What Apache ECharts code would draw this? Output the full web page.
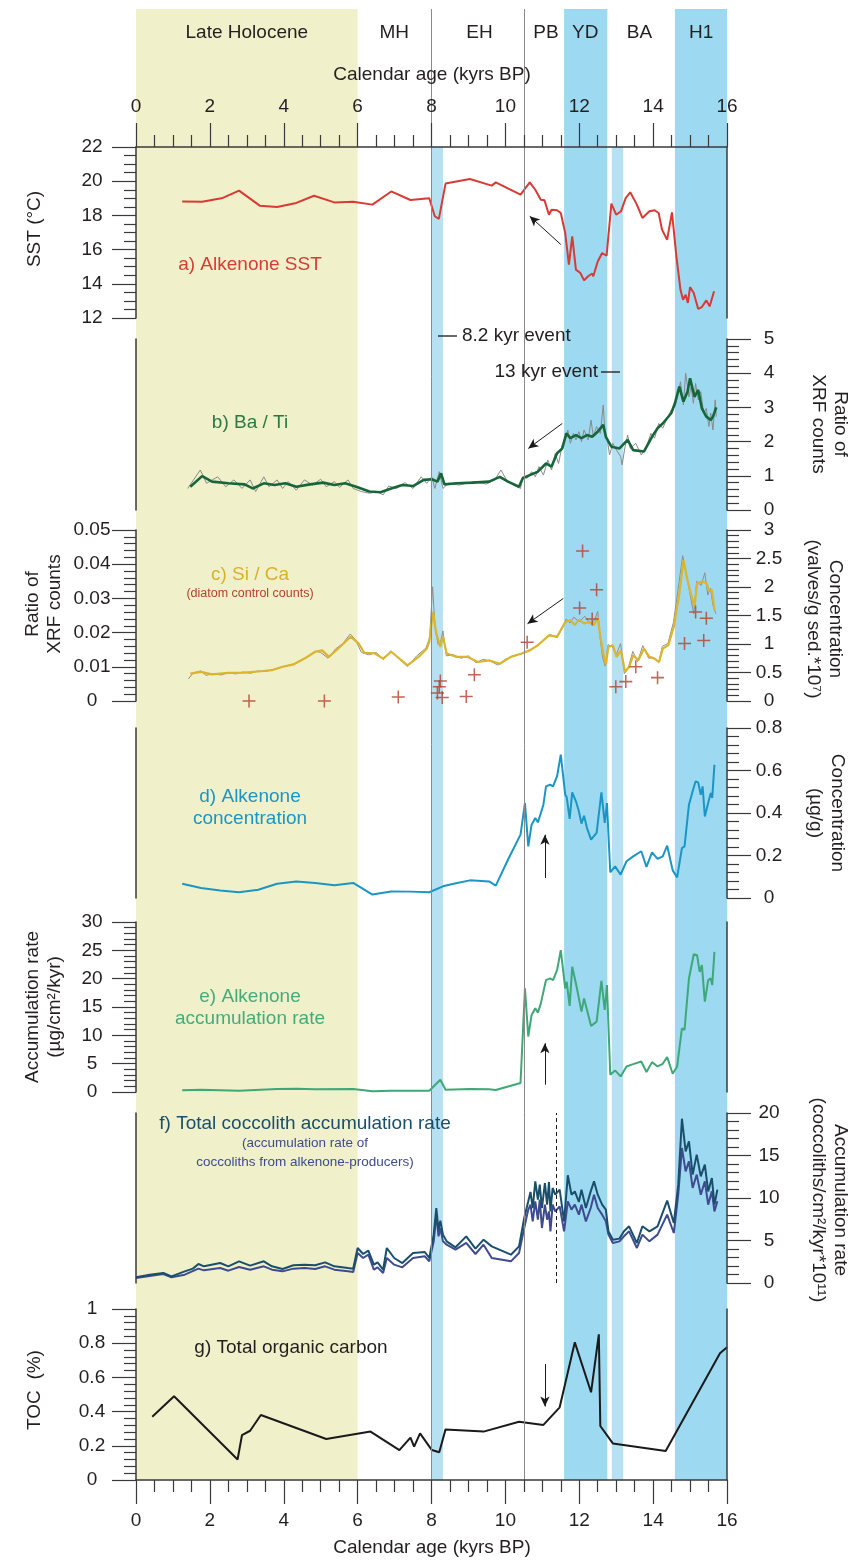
<!DOCTYPE html>
<html><head><meta charset="utf-8">
<script src="https://cdn.jsdelivr.net/npm/echarts@6.0.0/dist/echarts.min.js"></script>
<style>html,body{margin:0;padding:0;background:#fff}#c{width:852px;height:1560px}</style>
</head><body><div id="c"></div>
<script>
// ---------- DATA ----------
const bandNames = ['Late Holocene','MH','EH','PB','YD','BA','H1'];
const bandNamePos = [3.0, 6.99, 9.3, 11.1, 12.16, 13.63, 15.3];
const holoceneBand = [0, 6];
const strongBands = [[11.59, 12.76], [14.59, 16.0]];
const paleBands = [[8.0, 8.31], [12.88, 13.19]];
const eventLines = [8.0, 10.5];
const xTicks = {min: 0, max: 16, interval: 2};

const sst = [[1.25,18.82],[1.79,18.8],[2.35,19.02],[2.79,19.45],[3.35,18.57],[3.82,18.49],[4.34,18.73],[4.82,19.15],[5.37,18.76],[5.88,18.8],[6.4,18.63],[6.91,19.4],[7.43,18.9],[7.94,19.0],[8.09,17.95],[8.2,17.8],[8.38,19.86],[9.04,20.13],[9.63,19.74],[9.74,19.93],[10.41,19.21],[10.66,19.93],[10.81,19.5],[10.96,18.92],[11.06,18.88],[11.18,18.04],[11.25,18.33],[11.4,18.3],[11.5,18.14],[11.62,16.97],[11.72,15.12],[11.81,16.78],[11.91,14.83],[12.03,14.63],[12.13,14.2],[12.24,14.44],[12.35,14.6],[12.38,14.44],[12.5,15.3],[12.62,15.8],[12.74,15.64],[12.87,18.69],[13.0,18.04],[13.13,18.24],[13.26,19.02],[13.38,19.35],[13.56,18.63],[13.71,17.85],[13.9,18.24],[14.04,18.3],[14.15,18.14],[14.24,17.17],[14.38,16.58],[14.51,18.18],[14.63,15.6],[14.74,13.66],[14.81,13.07],[14.88,13.36],[14.94,12.88],[15.0,13.81],[15.1,13.46],[15.22,12.53],[15.32,12.64],[15.44,13.03],[15.53,12.68],[15.65,13.56]];

const baTiSmooth = [[1.47,0.68],[1.79,0.99],[2.06,0.83],[2.5,0.78],[2.94,0.75],[3.16,0.63],[3.46,0.78],[3.75,0.73],[4.04,0.78],[4.34,0.68],[4.71,0.75],[5.07,0.8],[5.37,0.73],[5.66,0.78],[5.96,0.68],[6.32,0.54],[6.62,0.52],[6.91,0.63],[7.21,0.73],[7.5,0.7],[7.79,0.88],[8.01,0.9],[8.16,0.83],[8.26,1.07],[8.35,0.75],[8.68,0.78],[9.12,0.8],[9.56,0.83],[9.85,0.97],[10.07,0.83],[10.37,0.68],[10.47,0.93],[10.66,1.02],[10.88,1.12],[11.1,1.36],[11.25,1.27],[11.4,1.66],[11.54,1.8],[11.65,2.24],[11.76,2.1],[11.91,2.19],[12.06,2.1],[12.21,2.19],[12.35,2.14],[12.5,2.29],[12.65,2.49],[12.72,2.14],[12.87,1.85],[13.09,1.8],[13.31,2.05],[13.46,1.75],[13.75,1.71],[13.97,2.14],[14.12,2.39],[14.26,2.53],[14.49,2.83],[14.59,3.12],[14.71,3.61],[14.82,3.17],[14.93,3.46],[15.0,3.85],[15.12,3.31],[15.22,3.51],[15.32,2.97],[15.44,2.73],[15.56,2.63],[15.62,2.73],[15.71,3.0]];
const baTiRaw = [[1.40,0.63],[1.74,1.17],[1.91,0.78],[2.21,0.97],[2.43,0.68],[2.65,0.88],[2.87,0.63],[3.09,0.88],[3.24,0.54],[3.46,0.97],[3.60,0.68],[3.82,0.88],[3.97,0.63],[4.12,0.83],[4.34,0.58],[4.56,0.88],[4.78,0.73],[5.00,0.90],[5.15,0.68],[5.37,0.83],[5.51,0.66],[5.74,0.88],[5.88,0.63],[6.10,0.54],[6.32,0.49],[6.54,0.54],[6.69,0.44],[6.84,0.70],[7.06,0.63],[7.28,0.80],[7.50,0.63],[7.72,0.97],[7.87,0.78],[8.01,0.97],[8.09,0.63],[8.21,1.12],[8.31,0.63],[8.46,0.78],[8.75,0.73],[9.12,0.83],[9.49,0.76],[9.71,0.88],[9.88,1.17],[10.03,0.88],[10.22,0.73],[10.41,0.63],[10.47,0.97],[10.59,0.93],[10.71,1.12],[10.81,0.97],[10.91,1.27],[11.03,1.02],[11.15,1.46],[11.25,1.17],[11.35,1.66],[11.44,1.36],[11.54,1.90],[11.62,2.05],[11.69,2.34],[11.76,1.95],[11.84,2.24],[11.91,2.05],[11.99,2.29],[12.06,2.00],[12.13,2.34],[12.24,2.05],[12.32,2.63],[12.38,2.14],[12.47,2.44],[12.57,2.24],[12.65,3.07],[12.69,2.34],[12.76,2.05],[12.82,1.61],[12.91,1.95],[13.01,1.75],[13.12,1.56],[13.16,1.32],[13.24,1.85],[13.31,2.19],[13.38,1.80],[13.53,1.95],[13.68,1.61],[13.82,1.85],[13.94,2.24],[14.04,2.10],[14.15,2.53],[14.26,2.39],[14.38,2.68],[14.49,2.92],[14.59,3.02],[14.68,3.41],[14.74,3.75],[14.82,3.07],[14.88,4.00],[14.97,3.31],[15.03,3.61],[15.09,3.12],[15.15,3.70],[15.22,3.22],[15.29,3.46],[15.37,2.83],[15.44,2.97],[15.51,2.44],[15.56,2.83],[15.62,2.34],[15.68,3.22],[15.71,2.73]];

const siCaSmooth = [[1.47,0.0080],[1.76,0.0085],[2.06,0.0078],[2.5,0.0082],[2.94,0.0083],[3.38,0.0087],[3.68,0.0090],[3.97,0.0100],[4.26,0.0107],[4.56,0.0124],[4.85,0.0144],[5.04,0.0148],[5.22,0.0129],[5.44,0.0150],[5.81,0.0188],[6.03,0.0168],[6.18,0.0141],[6.47,0.0139],[6.69,0.0124],[6.91,0.0144],[7.35,0.0104],[7.65,0.0129],[7.87,0.0153],[7.94,0.0173],[8.04,0.0261],[8.13,0.0197],[8.24,0.0158],[8.31,0.0188],[8.41,0.0139],[8.68,0.0129],[8.97,0.0129],[9.26,0.0114],[9.56,0.0119],[9.85,0.0109],[10.15,0.0129],[10.44,0.0139],[10.66,0.0148],[10.88,0.0163],[11.18,0.0192],[11.4,0.0188],[11.62,0.0231],[11.76,0.0236],[11.88,0.0222],[11.99,0.0238],[12.13,0.0227],[12.28,0.0231],[12.4,0.0222],[12.5,0.0246],[12.57,0.0188],[12.65,0.0139],[12.72,0.0107],[12.79,0.0158],[12.91,0.0163],[13.01,0.0129],[13.13,0.0148],[13.24,0.0085],[13.35,0.0100],[13.46,0.0134],[13.6,0.0119],[13.75,0.0153],[13.9,0.0129],[14.04,0.0124],[14.16,0.0114],[14.26,0.0153],[14.41,0.0163],[14.56,0.0217],[14.71,0.0314],[14.82,0.0412],[14.93,0.0354],[15.03,0.0310],[15.12,0.0275],[15.19,0.0344],[15.32,0.0349],[15.44,0.0346],[15.51,0.0324],[15.59,0.0324],[15.66,0.0266]];
const siCaRaw = [[1.42,0.0065],[1.55,0.0082],[1.75,0.0088],[1.9,0.0075],[2.1,0.0080],[2.3,0.0076],[2.5,0.0083],[2.7,0.0079],[2.9,0.0085],[3.1,0.0081],[3.3,0.0088],[3.5,0.0086],[3.7,0.0092],[3.9,0.0098],[4.1,0.0103],[4.3,0.0109],[4.5,0.0120],[4.7,0.0132],[4.85,0.0146],[5.0,0.0142],[5.2,0.0125],[5.4,0.0152],[5.6,0.0168],[5.8,0.0196],[5.95,0.0178],[6.1,0.0142],[6.3,0.0135],[6.5,0.0142],[6.7,0.0121],[6.9,0.0147],[7.1,0.0125],[7.35,0.0101],[7.6,0.0132],[7.85,0.0155],[7.95,0.0185],[8.03,0.0334],[8.1,0.0210],[8.18,0.0165],[8.25,0.0175],[8.31,0.0205],[8.4,0.0132],[8.6,0.0135],[8.8,0.0125],[9.0,0.0132],[9.2,0.0112],[9.4,0.0122],[9.6,0.0116],[9.8,0.0105],[10.0,0.0122],[10.2,0.0132],[10.4,0.0136],[10.6,0.0145],[10.8,0.0158],[11.0,0.0175],[11.2,0.0195],[11.4,0.0185],[11.55,0.0215],[11.65,0.0240],[11.75,0.0228],[11.85,0.0245],[12.0,0.0232],[12.15,0.0248],[12.3,0.0225],[12.42,0.0238],[12.5,0.0262],[12.56,0.0190],[12.63,0.0128],[12.7,0.0102],[12.78,0.0165],[12.9,0.0158],[13.0,0.0135],[13.12,0.0168],[13.22,0.0080],[13.33,0.0098],[13.45,0.0145],[13.58,0.0115],[13.72,0.0162],[13.88,0.0125],[14.0,0.0128],[14.15,0.0112],[14.25,0.0160],[14.4,0.0168],[14.55,0.0230],[14.68,0.0330],[14.8,0.0425],[14.92,0.0360],[15.02,0.0300],[15.1,0.0255],[15.18,0.0350],[15.3,0.0338],[15.4,0.0375],[15.48,0.0310],[15.55,0.0330],[15.62,0.0280],[15.7,0.0255]];
const diatoms = [[3.06,0],[5.1,0],[7.1,0.07],[8.16,0.14],[8.21,0.25],[8.24,0.35],[8.29,0.06],[8.94,0.08],[9.16,0.46],[10.59,1.03],[12.09,2.63],[12.47,1.95],[12.01,1.63],[12.35,1.44],[12.99,0.25],[13.26,0.34],[13.53,0.6],[14.12,0.41],[14.85,1.01],[15.15,1.56],[15.37,1.06],[15.44,1.45]];

const alkConc = [[1.25,0.067],[1.76,0.047],[2.28,0.035],[2.79,0.027],[3.31,0.039],[3.82,0.067],[4.34,0.078],[4.85,0.071],[5.37,0.06],[5.88,0.071],[6.4,0.016],[6.91,0.031],[7.43,0.03],[7.94,0.027],[8.31,0.055],[8.6,0.067],[9.04,0.083],[9.56,0.078],[9.74,0.058],[10.07,0.18],[10.41,0.298],[10.53,0.447],[10.62,0.243],[10.71,0.345],[10.81,0.376],[10.88,0.356],[10.96,0.4],[11.03,0.439],[11.1,0.525],[11.21,0.533],[11.29,0.525],[11.4,0.573],[11.5,0.675],[11.62,0.486],[11.66,0.475],[11.74,0.372],[11.81,0.497],[11.91,0.455],[11.99,0.408],[12.06,0.35],[12.13,0.387],[12.21,0.329],[12.32,0.275],[12.47,0.306],[12.6,0.497],[12.69,0.353],[12.75,0.447],[12.84,0.121],[12.97,0.149],[13.12,0.11],[13.28,0.173],[13.46,0.196],[13.68,0.22],[13.82,0.146],[13.97,0.215],[14.12,0.184],[14.26,0.196],[14.38,0.246],[14.53,0.13],[14.65,0.097],[14.78,0.235],[14.85,0.243],[14.97,0.439],[15.07,0.502],[15.15,0.549],[15.22,0.544],[15.29,0.486],[15.34,0.525],[15.4,0.384],[15.49,0.447],[15.56,0.494],[15.6,0.471],[15.66,0.627]];

const alkAR = [[1.25,0.29],[1.76,0.41],[2.79,0.23],[3.82,0.53],[4.34,0.59],[4.85,0.47],[5.88,0.53],[6.4,0.12],[6.91,0.23],[7.94,0.23],[8.24,2.17],[8.38,0.41],[9.04,0.53],[9.56,0.47],[9.74,0.35],[10.41,1.58],[10.53,18.28],[10.62,9.79],[10.71,13.6],[10.81,14.77],[10.88,14.0],[10.96,15.64],[11.1,19.75],[11.21,20.04],[11.29,19.75],[11.4,21.5],[11.5,25.02],[11.62,18.28],[11.66,19.45],[11.74,15.18],[11.81,22.09],[11.91,19.16],[11.99,16.52],[12.06,14.18],[12.13,16.52],[12.21,14.47],[12.32,11.66],[12.47,12.42],[12.6,19.63],[12.69,14.47],[12.75,18.87],[12.84,3.05],[12.97,3.81],[13.12,2.75],[13.28,4.51],[13.46,4.92],[13.68,5.39],[13.82,3.52],[13.97,5.27],[14.12,4.51],[14.26,4.98],[14.38,6.15],[14.53,3.22],[14.65,4.51],[14.78,11.25],[14.85,10.96],[14.97,20.04],[15.1,24.32],[15.19,24.14],[15.26,21.21],[15.32,22.38],[15.4,15.94],[15.49,19.75],[15.56,20.04],[15.6,18.87],[15.66,24.73]];

const coccoTotal = [[0,0.67],[0.37,0.98],[0.74,1.18],[0.96,0.78],[1.32,1.37],[1.54,1.69],[1.69,2.24],[1.84,1.96],[2.28,2.35],[2.5,1.96],[2.79,2.55],[3.09,2.04],[3.46,2.55],[3.68,1.96],[3.97,1.65],[4.26,2.08],[4.56,2.16],[4.85,2.08],[5.12,2.43],[5.37,1.96],[5.74,1.76],[5.88,1.69],[6.0,4.12],[6.15,3.41],[6.29,3.8],[6.44,2.16],[6.54,2.43],[6.69,1.57],[6.79,4.12],[6.99,2.94],[7.21,2.35],[7.5,3.53],[7.82,3.65],[7.94,2.94],[8.06,5.69],[8.13,8.82],[8.19,6.27],[8.24,7.33],[8.31,5.69],[8.41,4.9],[8.65,4.2],[8.94,5.49],[9.19,4.04],[9.41,5.1],[9.63,4.31],[10.15,3.33],[10.37,4.31],[10.51,7.65],[10.62,9.61],[10.68,10.71],[10.74,8.82],[10.81,11.96],[10.88,9.8],[10.93,11.57],[10.99,8.82],[11.07,11.76],[11.13,9.22],[11.18,11.88],[11.22,8.43],[11.28,11.18],[11.35,10.39],[11.47,10.98],[11.59,7.25],[11.69,12.67],[11.79,10.39],[11.88,10.78],[11.99,9.53],[12.06,10.98],[12.18,8.82],[12.31,10.78],[12.4,11.96],[12.5,10.39],[12.62,9.22],[12.72,8.63],[12.79,6.08],[12.91,5.1],[13.09,5.22],[13.21,6.08],[13.35,6.67],[13.56,4.71],[13.71,6.67],[13.9,6.08],[14.12,6.67],[14.38,9.69],[14.56,7.06],[14.68,11.57],[14.78,19.33],[14.88,15.49],[14.97,16.67],[15.07,12.75],[15.18,15.1],[15.29,12.55],[15.4,13.92],[15.49,10.78],[15.59,12.35],[15.66,9.22],[15.74,10.98]];
const coccoAlk = [[0,0.59],[0.74,1.06],[0.96,0.67],[1.32,0.98],[1.69,1.69],[1.84,1.49],[2.28,1.76],[2.5,1.45],[2.79,1.88],[3.09,1.57],[3.46,1.96],[3.68,1.57],[3.97,1.37],[4.26,1.69],[4.56,1.76],[4.85,1.65],[5.12,1.96],[5.37,1.57],[5.74,1.37],[5.88,1.29],[6.0,3.53],[6.15,2.94],[6.29,3.33],[6.44,1.57],[6.54,1.84],[6.69,1.18],[6.79,2.94],[6.99,2.16],[7.21,1.84],[7.5,2.94],[7.82,3.14],[7.94,2.55],[8.06,4.9],[8.13,8.04],[8.19,5.49],[8.24,6.47],[8.31,4.9],[8.41,4.51],[8.65,3.92],[8.94,4.71],[9.19,3.41],[9.41,4.51],[9.63,2.94],[10.15,2.55],[10.37,3.53],[10.51,6.47],[10.62,8.63],[10.68,9.22],[10.74,7.25],[10.81,9.61],[10.88,7.45],[10.93,9.8],[10.99,6.47],[11.07,9.22],[11.13,7.45],[11.18,8.43],[11.22,6.08],[11.28,9.22],[11.35,8.43],[11.47,9.02],[11.59,6.08],[11.69,9.61],[11.79,8.63],[11.88,9.22],[11.99,8.04],[12.06,9.22],[12.18,7.25],[12.31,8.82],[12.4,10.39],[12.5,8.82],[12.62,8.04],[12.72,7.25],[12.79,5.69],[12.91,4.71],[13.09,4.9],[13.21,5.49],[13.35,6.08],[13.56,4.12],[13.71,5.69],[13.9,4.9],[14.12,5.69],[14.38,8.04],[14.56,5.88],[14.68,10.39],[14.78,15.88],[14.88,13.14],[14.97,14.31],[15.07,11.18],[15.18,12.75],[15.29,10.39],[15.4,11.96],[15.49,9.22],[15.59,10.78],[15.66,8.43],[15.74,9.61]];
const coccoDashAge = 11.37;

const toc = [[0.44,0.37],[1.03,0.49],[2.75,0.12],[2.87,0.263],[3.09,0.288],[3.38,0.38],[5.15,0.24],[6.35,0.283],[7.13,0.175],[7.43,0.248],[7.53,0.195],[7.69,0.273],[8.01,0.175],[8.21,0.162],[8.38,0.296],[9.41,0.283],[10.37,0.341],[11.03,0.322],[11.47,0.425],[11.88,0.805],[12.32,0.513],[12.53,0.852],[12.57,0.316],[12.91,0.214],[14.34,0.17],[15.81,0.741],[16.0,0.776]];

// arrows: [from, to] in data units of each panel
const arrowA = [[11.5,16.3],[10.66,17.95]];
const arrowB = [[11.54,2.53],[10.62,1.8]];
const arrowC = [[11.57,0.030],[10.6,0.0226]];
const arrowD = [[11.07,0.094],[11.07,0.298]];
const arrowE = [[11.07,1.3],[11.07,8.6]];
const arrowF = [[11.07,-0.9],[11.07,4.3]];
const arrowG = [[11.07,0.678],[11.07,0.43]];

// ---------- STYLE ----------
const FONT = '"Liberation Sans", Arial, Helvetica, sans-serif';
const AXC = '#3a3a3a';
const TXT = '#231f20';
const L = 136, W = 591;
const grids = [
  {left:L, width:W, top:147, height:171},   // a
  {left:L, width:W, top:339, height:171},   // b
  {left:L, width:W, top:530, height:171},   // c
  {left:L, width:W, top:728, height:170},   // d
  {left:L, width:W, top:922, height:170},   // e
  {left:L, width:W, top:1113, height:170},  // f
  {left:L, width:W, top:1309, height:171},  // g
  {left:L, width:W, top:9, height:1471},    // bg full
  {left:L, width:W, top:147, height:1333},  // bg lower
  {left:L, width:W, top:20, height:26}      // band names
];

function xHidden(g){ return {type:'value', gridIndex:g, min:0, max:16, show:false}; }
function xShown(g, pos){
  return {type:'value', gridIndex:g, position:pos, min:xTicks.min, max:xTicks.max, interval:xTicks.interval, z:10,
    axisLine:{show:true, onZero:false, lineStyle:{color:AXC, width:1.5}},
    axisTick:{show:true, length:24, lineStyle:{color:AXC, width:1.2}},
    minorTick:{show:true, splitNumber:4, length:12, lineStyle:{color:AXC, width:1.2}},
    axisLabel:{margin:31, fontSize:19, color:TXT, fontFamily:FONT},
    splitLine:{show:false}, minorSplitLine:{show:false}};
}
function yAx(g, pos, min, max, interval, split, fmt){
  return {type:'value', gridIndex:g, position:pos, min, max, interval, z:10,
    axisLine:{show:true, onZero:false, lineStyle:{color:AXC, width:1.5}},
    axisTick:{show:true, length:24, lineStyle:{color:AXC, width:1.2}},
    minorTick:{show:true, splitNumber:split, length:12, lineStyle:{color:AXC, width:1.2}},
    axisLabel:{margin: pos==='left' ? 44 : 42, align:'center', fontSize:19, color:TXT, fontFamily:FONT, formatter: fmt},
    splitLine:{show:false}, minorSplitLine:{show:false}};
}
function ySpine(g, pos, min, max){
  return {type:'value', gridIndex:g, position:pos, min, max, z:10,
    axisLine:{show:true, onZero:false, lineStyle:{color:AXC, width:1.5}},
    axisTick:{show:false}, axisLabel:{show:false}, splitLine:{show:false}};
}
function yHidden(g){ return {type:'value', gridIndex:g, min:0, max:1, show:false}; }

const xAxes = [xShown(0,'top'), xHidden(1), xHidden(2), xHidden(3), xHidden(4), xHidden(5), xShown(6,'bottom'), xHidden(7), xHidden(8), xHidden(9)];
const yAxes = [
  yAx(0,'left',12,22,2,4),            //0
  ySpine(0,'right',12,22),            //1
  yAx(1,'right',0,5,1,5),             //2
  ySpine(1,'left',0,5),               //3
  yAx(2,'left',0,0.05,0.01,5, v => v===0 ? '0' : String(+v.toFixed(2))), //4
  yAx(2,'right',0,3,0.5,5),           //5
  yAx(3,'right',0,0.8,0.2,5, v => v===0 ? '0' : String(+v.toFixed(1))),  //6
  ySpine(3,'left',0,0.8),             //7
  yAx(4,'left',0,30,5,5),             //8
  ySpine(4,'right',0,30),             //9
  yAx(5,'right',0,20,5,5),            //10
  ySpine(5,'left',0,20),              //11
  yAx(6,'left',0,1,0.2,5, v => v===0 ? '0' : String(+v.toFixed(1))),     //12
  ySpine(6,'right',0,1),              //13
  yHidden(7), yHidden(8), yHidden(9)  //14,15,16
];

function arrowMark(a){
  return {silent:true, symbol:['none','arrow'], symbolSize:[7,10], precision:4,
    lineStyle:{color:'#1a1a1a', width:1, type:'solid'}, label:{show:false},
    emphasis:{disabled:true}, animation:false,
    data:[[{coord:a[0]},{coord:a[1]}]]};
}
function lineSeries(xi, yi, data, color, width, z, extra){
  return Object.assign({type:'line', xAxisIndex:xi, yAxisIndex:yi, data, symbol:'none', z:z||3,
    lineStyle:{color, width}, itemStyle:{color}, emphasis:{disabled:true}}, extra||{});
}

const crossPath = 'path://M5.3,0h1.4v5.3h5.3v1.4h-5.3v5.3h-1.4v-5.3h-5.3v-1.4h5.3z';

const series = [
  // backgrounds
  {type:'scatter', xAxisIndex:7, yAxisIndex:14, data:[[0,-5]], symbolSize:0, z:1, silent:true,
    markArea:{silent:true, data:[
      [{xAxis:holoceneBand[0], itemStyle:{color:'#f0f0ca'}},{xAxis:holoceneBand[1]}],
      ...strongBands.map(b => [{xAxis:b[0], itemStyle:{color:'#9dd9f1'}},{xAxis:b[1]}])
    ]},
    markLine:{silent:true, symbol:['none','none'], label:{show:false}, lineStyle:{color:'#8a8a8a', width:1, type:'solid'},
      data: eventLines.map(v => ({xAxis:v}))}
  },
  {type:'scatter', xAxisIndex:8, yAxisIndex:15, data:[[0,-5]], symbolSize:0, z:1, silent:true,
    markArea:{silent:true, data: paleBands.map(b => [{xAxis:b[0], itemStyle:{color:'#b5e1f3'}},{xAxis:b[1]}])}
  },
  // a
  lineSeries(0,0,sst,'#d83a34',2,3,{markLine:arrowMark(arrowA)}),
  // b
  lineSeries(1,2,baTiRaw,'#8a8a8a',1,3),
  lineSeries(1,2,baTiSmooth,'#17663a',2.6,4,{markLine:arrowMark(arrowB)}),
  // c
  lineSeries(2,4,siCaRaw,'#8f8f8f',1,3),
  lineSeries(2,4,siCaSmooth,'#dcb52e',2.2,4,{markLine:arrowMark(arrowC)}),
  {type:'scatter', xAxisIndex:2, yAxisIndex:5, data:diatoms, symbol:crossPath, symbolSize:13, z:5,
    itemStyle:{color:'#b3402a'}, emphasis:{disabled:true}},
  // d
  lineSeries(3,6,alkConc,'#1b96c4',2,3,{markLine:arrowMark(arrowD)}),
  // e
  lineSeries(4,8,alkAR,'#3fa877',2,3,{markLine:arrowMark(arrowE)}),
  // f
  lineSeries(5,10,coccoAlk,'#3e4b8e',2,3),
  lineSeries(5,10,coccoTotal,'#1a4f6c',2,4,{markLine:{silent:true, symbol:['none','none'], label:{show:false},
      lineStyle:{color:'#1a1a1a', width:1, type:[4,3]}, data:[{xAxis:coccoDashAge}]}}),
  {type:'line', xAxisIndex:5, yAxisIndex:10, data:[], markLine:arrowMark(arrowF), z:5},
  // g
  lineSeries(6,12,toc,'#1a1a1a',2,3,{markLine:arrowMark(arrowG)})
];

function t(x, y, text, size, color, extra){
  return Object.assign({type:'text', x, y, silent:true, z:20,
    style:Object.assign({text, fill:color||TXT, fontSize:size, fontFamily:FONT, align:'center', verticalAlign:'middle', lineHeight:22}, extra||{})});
}
function tr(x, y, text, rot){
  const o = t(x, y, text, 19, TXT); o.rotation = rot; return o;
}
const graphic = [
  t(432, 75, 'Calendar age (kyrs BP)', 19),
  t(432, 1548, 'Calendar age (kyrs BP)', 19),
  // left titles
  tr(35, 229, 'SST (°C)', Math.PI/2),
  tr(44, 604, 'Ratio of\nXRF counts', Math.PI/2),
  tr(44, 1007, 'Accumulation rate\n(µg/cm²/kyr)', Math.PI/2),
  tr(35, 1390, 'TOC  (%)', Math.PI/2),
  // right titles
  tr(829, 424, 'Ratio of\nXRF counts', -Math.PI/2),
  tr(824, 619, 'Concentration\n(valves/g sed.*10⁷)', -Math.PI/2),
  tr(826, 813, 'Concentration\n(µg/g)', -Math.PI/2),
  tr(829, 1200, 'Accumulation rate\n(coccoliths/cm²/kyr*10¹¹)', -Math.PI/2),
  // panel labels
  t(250, 265, 'a) Alkenone SST', 19, '#d83a34'),
  t(250, 423, 'b) Ba / Ti', 19, '#2a7a45'),
  t(250, 575, 'c) Si / Ca', 19, '#d9b22c'),
  t(250, 594, '(diatom control counts)', 12.5, '#b3402a'),
  t(250, 808, 'd) Alkenone\nconcentration', 19, '#1b96c4'),
  t(250, 1008, 'e) Alkenone\naccumulation rate', 19, '#45ab7c'),
  t(305, 1124, 'f) Total coccolith accumulation rate', 19, '#1a4f6c'),
  t(305, 1153, '(accumulation rate of\ncoccoliths from alkenone-producers)', 13.5, '#3e4b8e', {lineHeight:19}),
  t(291, 1348, 'g) Total organic carbon', 19, TXT),
  // event labels
  {type:'line', shape:{x1:438, y1:336, x2:457, y2:336}, style:{stroke:'#1a1a1a', lineWidth:1.3}, z:20, silent:true},
  t(462, 336, '8.2 kyr event', 19, TXT, {align:'left'}),
  {type:'line', shape:{x1:601, y1:372, x2:620, y2:372}, style:{stroke:'#1a1a1a', lineWidth:1.3}, z:20, silent:true},
  t(598, 372, '13 kyr event', 19, TXT, {align:'right'})
];

const chart = echarts.init(document.getElementById('c'), null, {renderer:'canvas'});
chart.setOption({animation:false, backgroundColor:'#fff', textStyle:{fontFamily:FONT},
  grid: grids, xAxis: xAxes, yAxis: yAxes, series, graphic});

// band names placed through the x scale of the band-name grid
const bandLabelEls = bandNames.map((name, i) => {
  const p = chart.convertToPixel({xAxisIndex:9, yAxisIndex:16}, [bandNamePos[i], 0.5]);
  return t(p[0], p[1] + 0, name, 19, TXT);
});
chart.setOption({graphic: graphic.concat(bandLabelEls)});
</script></body></html>
